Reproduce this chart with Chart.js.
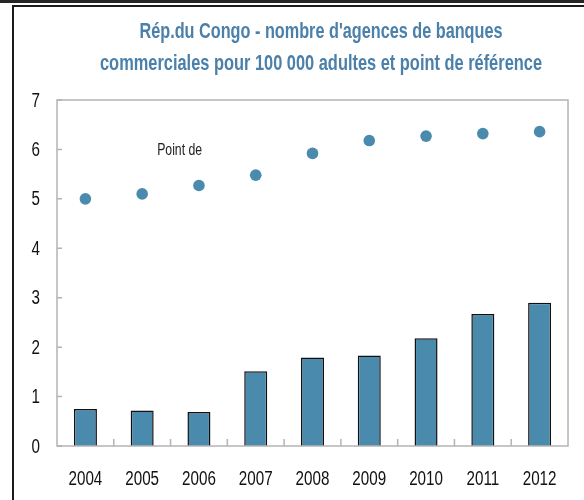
<!DOCTYPE html>
<html><head><meta charset="utf-8">
<script src="https://cdn.jsdelivr.net/npm/chart.js@4.4.1/dist/chart.umd.min.js"></script>
<style>
html,body{margin:0;padding:0;background:#fff;overflow:hidden;}
#wrap{position:relative;width:584px;height:500px;overflow:hidden;}
#topband{position:absolute;left:0;top:0;width:584px;height:3px;background:#262626;}
#frame{position:absolute;left:12px;top:5px;width:640px;height:520px;border-top:2px solid #1a1a1a;border-left:2px solid #1a1a1a;}
canvas{position:absolute;left:0;top:0;}
</style></head><body>
<div id="wrap"><div id="topband"></div><div id="frame"></div><canvas id="c" width="584" height="500"></canvas></div>
<script>
const years = ["2004","2005","2006","2007","2008","2009","2010","2011","2012"];
const branches = [0.75,0.72,0.69,1.51,1.79,1.83,2.18,2.67,2.90];
const benchmark = [5.00,5.10,5.27,5.48,5.92,6.18,6.27,6.32,6.36];
const yTicks = [0,1,2,3,4,5,6,7];
const titleLines = ["Rép.du Congo - nombre d'agences de banques","commerciales pour 100 000 adultes et point de référence"];
const benchLabel = "Point de";
const benchLabelPos = {x:1.66, y:5.98};

const FONT = '"Liberation Sans", sans-serif';
const BLUE = '#4A8AAD';
const TITLE_BLUE = '#4B80AA';
const FRAME_GREY = '#b4b4b4';
const TICK_SX = 0.76;

function condensedText(ctx, text, x, y, sx){
  ctx.save(); ctx.translate(x, y); ctx.scale(sx, 1); ctx.fillText(text, 0, 0); ctx.restore();
}

const decorPlugin = {
  id:'decor',
  afterDraw(chart){
    const ctx = chart.ctx, a = chart.chartArea;
    const xs = chart.scales.x, ys = chart.scales.y;
    ctx.save();
    // plot border
    ctx.strokeStyle = FRAME_GREY; ctx.lineWidth = 1.5;
    ctx.strokeRect(a.left, a.top, a.right - a.left, a.bottom - a.top);
    // inward ticks
    ctx.beginPath();
    ys.ticks.forEach((t,i)=>{ const y = ys.getPixelForTick(i); ctx.moveTo(a.left, y); ctx.lineTo(a.left+5, y); });
    for (let i=1;i<years.length;i++){
      const x = (xs.getPixelForTick(i-1)+xs.getPixelForTick(i))/2;
      ctx.moveTo(x, a.bottom); ctx.lineTo(x, a.bottom-7);
    }
    ctx.stroke();
    // tick labels
    ctx.fillStyle = '#111';
    ctx.font = '20px ' + FONT;
    ctx.textBaseline = 'middle';
    ctx.textAlign = 'center';
    years.forEach((lab,i)=>{ condensedText(ctx, lab, xs.getPixelForTick(i), a.bottom + 33, TICK_SX); });
    ctx.textAlign = 'right';
    ys.ticks.forEach((t,i)=>{ condensedText(ctx, String(t.value), a.left - 17, ys.getPixelForTick(i) + 1, TICK_SX); });
    // title
    ctx.fillStyle = TITLE_BLUE;
    ctx.font = 'bold 22px ' + FONT;
    ctx.textAlign = 'center'; ctx.textBaseline = 'middle';
    const targets = [363, 442], tys = [32, 64];
    titleLines.forEach((t,i)=>{
      const w = ctx.measureText(t).width;
      condensedText(ctx, t, 321, tys[i], Math.min(1, targets[i]/w));
    });
    // benchmark label
    ctx.fillStyle = '#222';
    ctx.font = '16px ' + FONT;
    const lx = xs.getPixelForValue(benchLabelPos.x), ly = ys.getPixelForValue(benchLabelPos.y);
    const lw = ctx.measureText(benchLabel).width;
    condensedText(ctx, benchLabel, lx, ly, Math.min(1, 45/lw));
    ctx.restore();
  }
};

new Chart(document.getElementById('c'), {
  data: {
    labels: years,
    datasets: [
      { type:'line', data: benchmark, showLine:false, pointRadius:5.8, pointHoverRadius:5.8,
        pointBackgroundColor: BLUE, pointBorderWidth:0, borderColor: BLUE, order:0 },
      { type:'bar', data: branches, backgroundColor: BLUE, borderColor:'#111', borderWidth:1.5,
        borderSkipped:'bottom', barPercentage:0.405, categoryPercentage:1, order:1 }
    ]
  },
  options: {
    responsive:false, animation:false,
    layout:{ padding:{ top:100, right:16, left:0, bottom:0 } },
    plugins:{ legend:{display:false}, tooltip:{enabled:false}, title:{display:false} },
    scales:{
      x:{ offset:true,
        grid:{ display:false, drawTicks:false },
        border:{ display:false },
        ticks:{ display:false },
        afterFit(s){ s.height = 54; } },
      y:{ min:0, max:7,
        afterBuildTicks(s){ s.ticks = yTicks.map(v=>({value:v})); },
        grid:{ display:false, drawTicks:false },
        border:{ display:false },
        ticks:{ display:false },
        afterFit(s){ s.width = 57; } }
    }
  },
  plugins:[decorPlugin]
});
</script>
</body></html>
